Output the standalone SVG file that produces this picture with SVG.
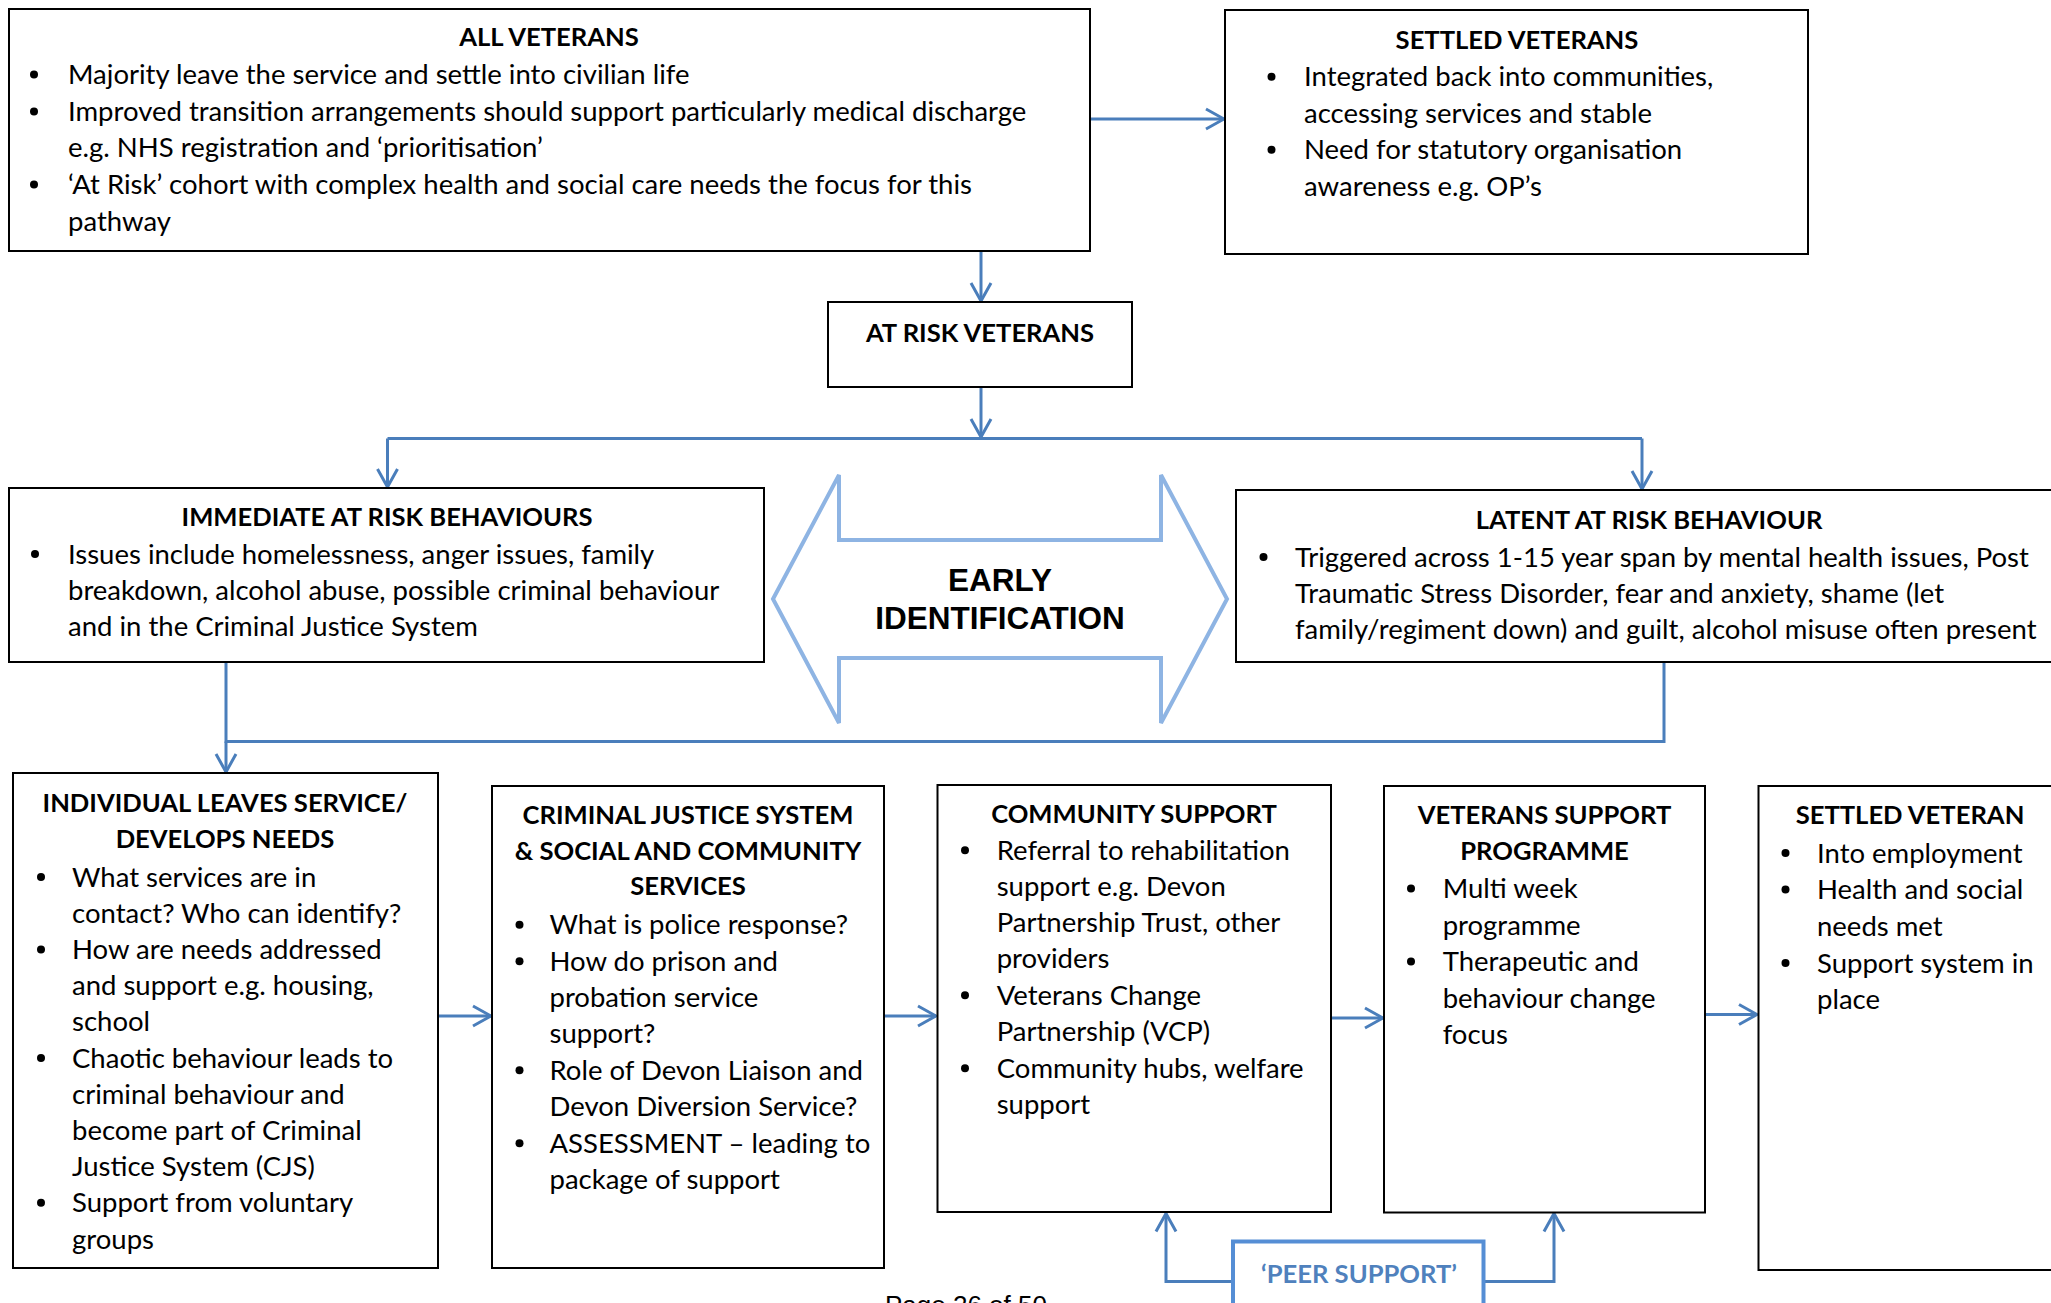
<svg xmlns="http://www.w3.org/2000/svg" width="2051" height="1303" viewBox="0 0 2051 1303">
<defs>
<style>
.box{fill:#fff;stroke:#000;stroke-width:2}
.t{font-family:Lato,"Open Sans","Liberation Sans",sans-serif;font-size:27.5px;fill:#000}
.h{font-weight:bold;text-anchor:middle;font-size:25.6px}
.b{fill:#000}
.c{fill:none;stroke:#4A7EBB;stroke-width:3}
.ca{fill:none;stroke:#4A7EBB;stroke-width:3;marker-end:url(#ah)}
.ei{fill:#fff;stroke:#8EB4E3;stroke-width:4}
.eit{font-family:"Liberation Sans",Arial,sans-serif;font-weight:bold;font-size:31.5px;text-anchor:middle;fill:#000}
</style>
<marker id="ah" markerUnits="userSpaceOnUse" viewBox="0 0 22 24" refX="20" refY="12" markerWidth="22" markerHeight="24" orient="auto">
<path d="M2,2 L20,12 L2,22" fill="none" stroke="#4A7EBB" stroke-width="3"/>
</marker>
</defs>
<rect width="2051" height="1303" fill="#fff"/>

<g id="connectors">
<path class="ca" d="M1090,119 H1224"/>
<path class="ca" d="M981,251 V301"/>
<path class="ca" d="M981,387 V437"/>
<path class="c" d="M387.5,438.5 H1642"/>
<path class="ca" d="M387.5,438.5 V487"/>
<path class="ca" d="M1642,438.5 V489"/>
<path class="c" d="M226,662 V741.5 H1664 V662"/>
<path class="ca" d="M226,741.5 V772"/>
<path class="ca" d="M438,1016 H491"/>
<path class="ca" d="M884,1016 H936"/>
<path class="ca" d="M1331,1018 H1383"/>
<path class="ca" d="M1705,1014.5 H1757"/>
<path class="ca" d="M1233,1281.5 H1166 V1213.5"/>
<path class="ca" d="M1483.5,1281.5 H1554 V1213.5"/>
</g>

<g id="all-veterans">
<rect class="box" x="9" y="9" width="1081" height="242"/>
<text class="t h" x="549" y="45.6">ALL VETERANS</text>
<circle class="b" cx="34" cy="74.5" r="4"/>
<circle class="b" cx="34" cy="111.5" r="4"/>
<circle class="b" cx="34" cy="184.5" r="4"/>
<text class="t" x="68" y="84.1">Majority leave the service and settle into civilian life</text>
<text class="t" x="68" y="120.7">Improved transition arrangements should support particularly medical discharge</text>
<text class="t" x="68" y="157.3">e.g. NHS registration and ‘prioritisation’</text>
<text class="t" x="68" y="193.9">‘At Risk’ cohort with complex health and social care needs the focus for this</text>
<text class="t" x="68" y="230.5">pathway</text>
</g>

<g id="settled-veterans">
<rect class="box" x="1225" y="10" width="583" height="244"/>
<text class="t h" x="1517" y="48.5">SETTLED VETERANS</text>
<circle class="b" cx="1271.5" cy="76.7" r="4"/>
<circle class="b" cx="1271.5" cy="149.7" r="4"/>
<text class="t" x="1304" y="86.2">Integrated back into communities,</text>
<text class="t" x="1304" y="122.7">accessing services and stable</text>
<text class="t" x="1304" y="159.2">Need for statutory organisation</text>
<text class="t" x="1304" y="195.7">awareness e.g. OP’s</text>
</g>

<g id="at-risk-veterans">
<rect class="box" x="828" y="302" width="304" height="85"/>
<text class="t h" x="980" y="341.5">AT RISK VETERANS</text>
</g>

<g id="immediate-at-risk">
<rect class="box" x="9" y="488" width="755" height="174"/>
<text class="t h" x="387" y="526">IMMEDIATE AT RISK BEHAVIOURS</text>
<circle class="b" cx="35" cy="554" r="4"/>
<text class="t" x="68" y="563.6">Issues include homelessness, anger issues, family</text>
<text class="t" x="68" y="600">breakdown, alcohol abuse, possible criminal behaviour</text>
<text class="t" x="68" y="636">and in the Criminal Justice System</text>
</g>

<g id="early-identification">
<path class="ei" d="M773,599 L839,475 V540 H1161 V475 L1227,599 L1161,723 V658 H839 V723 Z"/>
<text class="eit" x="1000" y="590.5">EARLY</text>
<text class="eit" x="1000" y="628.5">IDENTIFICATION</text>
</g>

<g id="latent-at-risk">
<rect class="box" x="1236" y="490" width="830" height="172"/>
<text class="t h" x="1649" y="528.5">LATENT AT RISK BEHAVIOUR</text>
<circle class="b" cx="1263.5" cy="557" r="4"/>
<text class="t" x="1295" y="566.5">Triggered across 1-15 year span by mental health issues, Post</text>
<text class="t" x="1295" y="602.5">Traumatic Stress Disorder, fear and anxiety, shame (let</text>
<text class="t" x="1295" y="638.5">family/regiment down) and guilt, alcohol misuse often present</text>
</g>

<g id="individual-leaves">
<rect class="box" x="13" y="773" width="425" height="495"/>
<text class="t h" x="225" y="812">INDIVIDUAL LEAVES SERVICE/</text>
<text class="t h" x="225" y="847.5">DEVELOPS NEEDS</text>
<circle class="b" cx="41" cy="877" r="4"/>
<circle class="b" cx="41" cy="949.4" r="4"/>
<circle class="b" cx="41" cy="1058" r="4"/>
<circle class="b" cx="41" cy="1202.8" r="4"/>
<text class="t" x="72" y="886.5">What services are in</text>
<text class="t" x="72" y="922.7">contact? Who can identify?</text>
<text class="t" x="72" y="958.9">How are needs addressed</text>
<text class="t" x="72" y="995.1">and support e.g. housing,</text>
<text class="t" x="72" y="1031.3">school</text>
<text class="t" x="72" y="1067.5">Chaotic behaviour leads to</text>
<text class="t" x="72" y="1103.7">criminal behaviour and</text>
<text class="t" x="72" y="1139.9">become part of Criminal</text>
<text class="t" x="72" y="1176.1">Justice System (CJS)</text>
<text class="t" x="72" y="1212.3">Support from voluntary</text>
<text class="t" x="72" y="1248.5">groups</text>
</g>

<g id="criminal-justice">
<rect class="box" x="492" y="786" width="392" height="482"/>
<text class="t h" x="688" y="824">CRIMINAL JUSTICE SYSTEM</text>
<text class="t h" x="688" y="859.5">&amp; SOCIAL AND COMMUNITY</text>
<text class="t h" x="688" y="895">SERVICES</text>
<circle class="b" cx="519.5" cy="924.8" r="4"/>
<circle class="b" cx="519.5" cy="961.3" r="4"/>
<circle class="b" cx="519.5" cy="1070.3" r="4"/>
<circle class="b" cx="519.5" cy="1143.3" r="4"/>
<text class="t" x="549.5" y="934.3">What is police response?</text>
<text class="t" x="549.5" y="970.8">How do prison and</text>
<text class="t" x="549.5" y="1007.3">probation service</text>
<text class="t" x="549.5" y="1043.3">support?</text>
<text class="t" x="549.5" y="1079.8">Role of Devon Liaison and</text>
<text class="t" x="549.5" y="1116.3">Devon Diversion Service?</text>
<text class="t" x="549.5" y="1152.8">ASSESSMENT – leading to</text>
<text class="t" x="549.5" y="1189.3">package of support</text>
</g>

<g id="community-support">
<rect class="box" x="937.5" y="785" width="393.5" height="427"/>
<text class="t h" x="1134" y="822.6">COMMUNITY SUPPORT</text>
<circle class="b" cx="965" cy="850.3" r="4"/>
<circle class="b" cx="965" cy="995.3" r="4"/>
<circle class="b" cx="965" cy="1068.3" r="4"/>
<text class="t" x="996.7" y="859.8">Referral to rehabilitation</text>
<text class="t" x="996.7" y="896.3">support e.g. Devon</text>
<text class="t" x="996.7" y="932.3">Partnership Trust, other</text>
<text class="t" x="996.7" y="968.3">providers</text>
<text class="t" x="996.7" y="1004.8">Veterans Change</text>
<text class="t" x="996.7" y="1041.3">Partnership (VCP)</text>
<text class="t" x="996.7" y="1077.8">Community hubs, welfare</text>
<text class="t" x="996.7" y="1114.3">support</text>
</g>

<g id="veterans-support-programme">
<rect class="box" x="1384" y="786" width="321" height="426.5"/>
<text class="t h" x="1544.5" y="824">VETERANS SUPPORT</text>
<text class="t h" x="1544.5" y="859.5">PROGRAMME</text>
<circle class="b" cx="1411" cy="888.5" r="4"/>
<circle class="b" cx="1411" cy="961.5" r="4"/>
<text class="t" x="1442.7" y="898">Multi week</text>
<text class="t" x="1442.7" y="934.5">programme</text>
<text class="t" x="1442.7" y="971">Therapeutic and</text>
<text class="t" x="1442.7" y="1007.5">behaviour change</text>
<text class="t" x="1442.7" y="1044">focus</text>
</g>

<g id="settled-veteran">
<rect class="box" x="1758.5" y="786" width="310" height="484"/>
<text class="t h" x="1910" y="824">SETTLED VETERAN</text>
<circle class="b" cx="1785.5" cy="853" r="4"/>
<circle class="b" cx="1785.5" cy="889.5" r="4"/>
<circle class="b" cx="1785.5" cy="963" r="4"/>
<text class="t" x="1817" y="862.5">Into employment</text>
<text class="t" x="1817" y="899">Health and social</text>
<text class="t" x="1817" y="935.5">needs met</text>
<text class="t" x="1817" y="972.5">Support system in</text>
<text class="t" x="1817" y="1008.5">place</text>
</g>

<g id="peer-support">
<rect x="1233" y="1241.5" width="250.5" height="90" fill="#fff" stroke="#558ED5" stroke-width="4"/>
<text class="t h" x="1359" y="1283" style="fill:#4F81BD">‘PEER SUPPORT’</text>
</g>

<text x="885" y="1314" font-family="'Liberation Sans',Arial,sans-serif" font-size="26" fill="#000">Page 26 of 50</text>
</svg>
